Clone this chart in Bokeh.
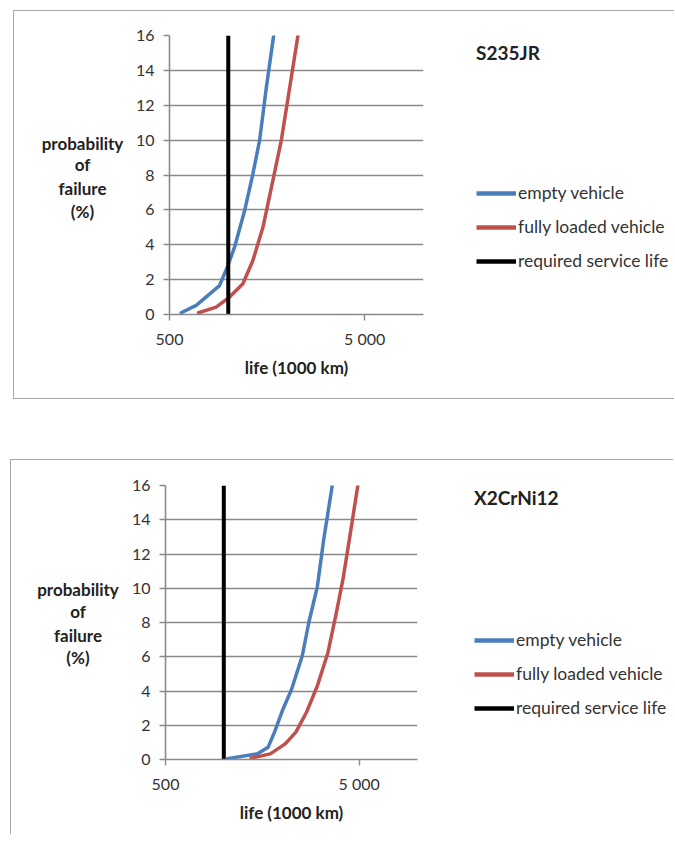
from bokeh.plotting import figure
from bokeh.layouts import column, row
from bokeh.models import (FixedTicker, CustomJSTickFormatter, Legend,
                          LegendItem, Range1d, Label)
from bokeh.embed import file_html
from bokeh.resources import INLINE

# ---------------- data ----------------
prob_ticks = [0, 2, 4, 6, 8, 10, 12, 14, 16]
life_ticks = [500, 5000]
service_life = 1000

# S235JR
s235_empty_life = [574, 685, 902, 995, 1077, 1213, 1337, 1448, 1566, 1708]
s235_empty_prob = [0.1, 0.52, 1.66, 2.8, 3.86, 5.96, 8.07, 10.0, 13.0, 16.0]
s235_full_life = [704, 867, 1015, 1188, 1337, 1505, 1694, 1870, 2063, 2275]
s235_full_prob = [0.1, 0.42, 1.0, 1.76, 3.1, 5.0, 7.7, 10.0, 13.0, 16.0]

# X2CrNi12
x2_empty_life = [1045, 1493, 1694, 1827, 2023, 2239, 2542, 2747, 3040, 3280, 3630]
x2_empty_prob = [0.05, 0.33, 0.72, 1.6, 2.95, 4.1, 6.06, 8.0, 10.1, 12.85, 16.0]
x2_full_life = [1382, 1737, 2075, 2356, 2673, 3040, 3450, 3817, 4119, 4448, 4920]
x2_full_prob = [0.08, 0.33, 0.91, 1.6, 2.76, 4.3, 6.25, 8.6, 10.5, 12.85, 16.0]

series_labels = ["empty vehicle", "fully loaded vehicle", "required service life"]
ytitle_lines = ["probability", "of", "failure", "(%)"]
xtitle = "life (1000 km)"

FONT = "Lato"
GRID = "#8a8a8a"
BLUE = "#4a7ebb"
RED = "#c0504d"
TXT = "#333333"
BORDER = "1.5px solid #a6a6a6"


def blank_fig(width, height):
    # side panel figure; its frame is aligned with the main plot frame
    f = figure(width=width, height=height, x_range=Range1d(0, width),
               y_range=Range1d(prob_ticks[0], prob_ticks[-1]),
               output_backend="svg", toolbar_location=None,
               x_axis_location=None, y_axis_location=None, min_border=0)
    f.min_border_left = f.min_border_right = 0
    f.min_border_top = f.min_border_bottom = 0
    f.outline_line_color = None
    f.grid.visible = False
    f.background_fill_color = "white"
    f.border_fill_color = "white"
    return f


def make_main(empty_life, empty_prob, full_life, full_prob,
              width, height, ml, mt, mb, mr):
    p = figure(width=width, height=height, x_axis_type="log",
               x_range=Range1d(500, 10000),
               y_range=Range1d(prob_ticks[0], prob_ticks[-1]),
               output_backend="svg", toolbar_location=None,
               min_border_left=ml, min_border_top=mt, min_border_bottom=mb,
               min_border_right=mr)
    p.outline_line_color = None
    p.background_fill_color = "white"
    p.border_fill_color = "white"

    p.xgrid.visible = False
    p.ygrid.ticker = FixedTicker(ticks=prob_ticks)
    p.ygrid.grid_line_color = GRID
    p.ygrid.grid_line_width = 1.6

    p.yaxis.ticker = FixedTicker(ticks=prob_ticks)
    p.xaxis.ticker = FixedTicker(ticks=life_ticks, minor_ticks=[])
    p.xaxis.formatter = CustomJSTickFormatter(code="""
        const s = Math.round(tick).toString();
        return s.replace(/\\B(?=(\\d{3})+(?!\\d))/g, ' ');
    """)
    for ax in (p.xaxis[0], p.yaxis[0]):
        ax.axis_line_color = GRID
        ax.axis_line_width = 1.6
        ax.major_tick_line_color = GRID
        ax.major_tick_line_width = 1.4
        ax.major_tick_out = 6
        ax.major_tick_in = 0
        ax.minor_tick_line_color = None
        ax.major_label_text_font = FONT
        ax.major_label_text_font_size = "16px"
        ax.major_label_text_color = TXT
    p.yaxis.major_label_standoff = 9
    p.xaxis.major_label_standoff = 8
    p.xaxis.axis_label = xtitle
    p.xaxis.axis_label_standoff = 6
    p.xaxis.axis_label_text_font = FONT
    p.xaxis.axis_label_text_font_style = "bold"
    p.xaxis.axis_label_text_font_size = "17px"
    p.xaxis.axis_label_text_color = "#222222"

    p.line(empty_life, empty_prob, line_color=BLUE, line_width=3.5,
           line_join="round", line_cap="round")
    p.line(full_life, full_prob, line_color=RED, line_width=3.5,
           line_join="round", line_cap="round")
    p.line([service_life, service_life], [prob_ticks[0], prob_ticks[-1]],
           line_color="black", line_width=4)
    return p


def make_ytitle_fig(width, height, x, ys):
    f = blank_fig(width, height)
    for txt, yy in zip(ytitle_lines, ys):
        f.add_layout(Label(x=x, y=yy, text=txt, text_align="center",
                           text_baseline="middle", text_font=FONT,
                           text_font_style="bold", text_font_size="17px",
                           text_color="#222222"))
    return f


def make_legend_fig(title, width, height, margin, standoff,
                    empty_life, empty_prob, full_life, full_prob):
    lf = blank_fig(width, height)
    # legend sample renderers: same series, outside this panel's view
    s1 = lf.line(empty_life, empty_prob, line_color=BLUE, line_width=4.5)
    s2 = lf.line(full_life, full_prob, line_color=RED, line_width=4.5)
    s3 = lf.line([service_life, service_life], [prob_ticks[0], prob_ticks[-1]],
                 line_color="black", line_width=4.5)
    legend = Legend(items=[LegendItem(label=series_labels[0], renderers=[s1]),
                           LegendItem(label=series_labels[1], renderers=[s2]),
                           LegendItem(label=series_labels[2], renderers=[s3])],
                    location="top_left", margin=margin, padding=0, spacing=13,
                    glyph_width=40, glyph_height=20, label_height=20,
                    label_standoff=2, border_line_color=None,
                    background_fill_alpha=0,
                    label_text_font=FONT, label_text_font_size="17.5px",
                    label_text_color=TXT,
                    title=title, title_text_font=FONT,
                    title_text_font_style="bold", title_text_font_size="19px",
                    title_text_color="#222222", title_standoff=standoff)
    lf.add_layout(legend)
    return lf


# ---- top panel ----
y1 = make_ytitle_fig(115, 387, 68, [9.81, 8.6, 7.22, 5.91])
m1 = make_main(s235_empty_life, s235_empty_prob, s235_full_life, s235_full_prob,
               width=341, height=387, ml=40, mt=24, mb=84, mr=47)
l1 = make_legend_fig("S235JR", 204, 387, 6, 118, s235_empty_life,
                     s235_empty_prob, s235_full_life, s235_full_prob)
r1 = row(y1, m1, l1, spacing=0)
r1.styles = {"border-left": BORDER, "border-top": BORDER, "border-bottom": BORDER}
r1.margin = (10, 0, 0, 13)

# ---- bottom panel ----
y2 = make_ytitle_fig(114, 374, 66.5, [9.94, 8.64, 7.24, 5.96])
m2 = make_main(x2_empty_life, x2_empty_prob, x2_full_life, x2_full_prob,
               width=348, height=374, ml=40, mt=25, mb=75, mr=56)
l2 = make_legend_fig("X2CrNi12", 200, 374, 1, 120, x2_empty_life,
                     x2_empty_prob, x2_full_life, x2_full_prob)
r2 = row(y2, m2, l2, spacing=0)
r2.styles = {"border-left": BORDER, "border-top": BORDER}
r2.margin = (60, 0, 0, 10)

layout = column(r1, r2, spacing=0)
open("out.html", "w").write(file_html(layout, INLINE))
